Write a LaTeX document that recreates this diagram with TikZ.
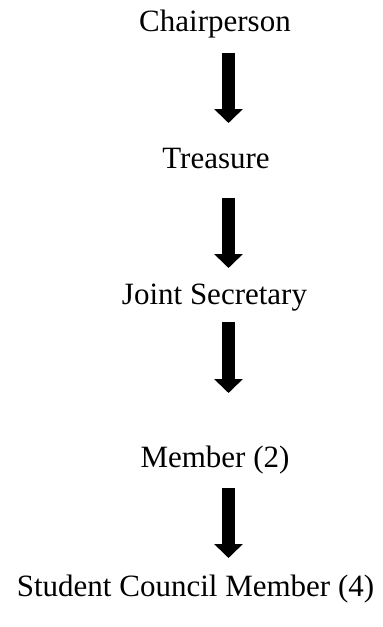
\documentclass[tikz,border=0pt]{standalone}
\usepackage{fontspec}
\setmainfont{Liberation Serif}
\usetikzlibrary{positioning,arrows.meta}

\tikzset{
  role/.style={inner sep=0pt, anchor=base, font=\fontsize{31}{37}\selectfont},
  blockarrow/.style={line width=13pt, -{Triangle[width=28pt,length=14pt]}}
}

\begin{document}
\begin{tikzpicture}[x=1pt, y=-1pt]
\useasboundingbox (0,0) rectangle (383,627);

\def\x{215}
\def\ax{228.5}

\node[role] (chair) at (\x, 31) {Chairperson};
\node[role] (treas) at (\x + 1, 168) {Treasure};
\node[role] (jsec) at (\x - 0.5, 304) {Joint Secretary};
\node[role] (memb) at (\x, 467) {Member (2)};
\node[role] (scm) at (\x - 19.5, 596) {Student Council Member (4)};

\coordinate (t1) at (\ax, 53);
\coordinate (h1) at (\ax, 123);
\coordinate (t2) at (\ax, 198);
\coordinate (h2) at (\ax, 268);
\coordinate (t3) at (\ax, 322);
\coordinate (h3) at (\ax, 393);
\coordinate (t4) at (\ax, 488);
\coordinate (h4) at (\ax, 558);

\draw[blockarrow] (t1) -- (h1);
\draw[blockarrow] (t2) -- (h2);
\draw[blockarrow] (t3) -- (h3);
\draw[blockarrow] (t4) -- (h4);

\end{tikzpicture}
\end{document}
